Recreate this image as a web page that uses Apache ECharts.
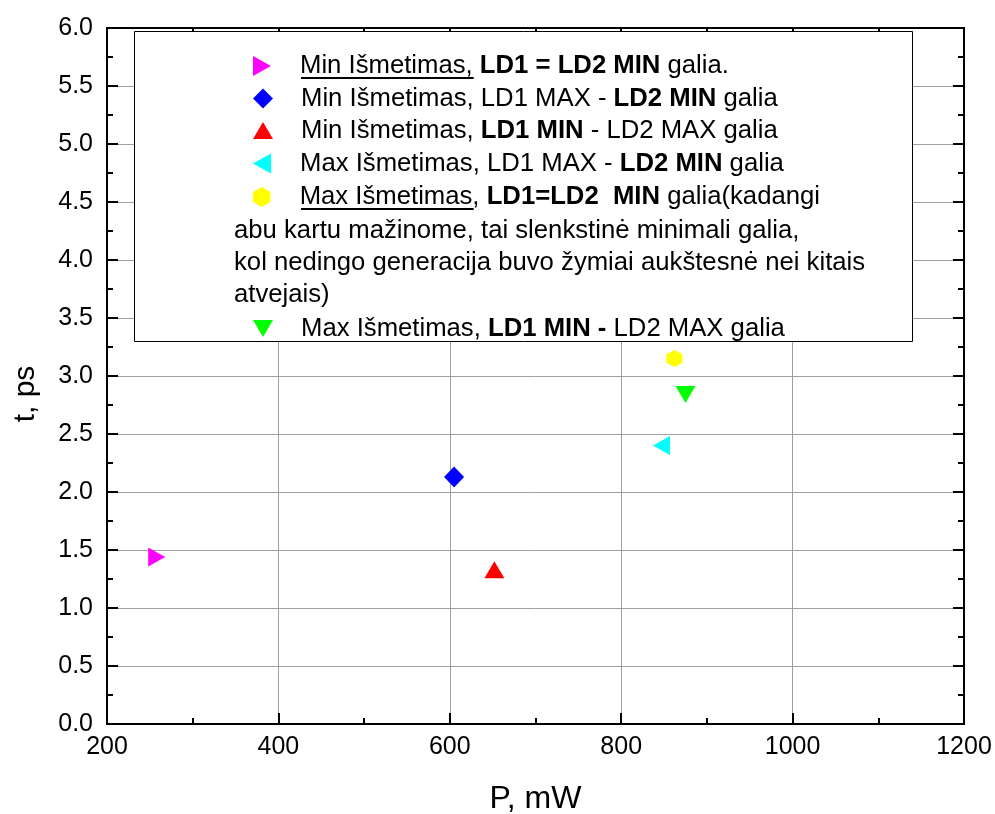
<!DOCTYPE html>
<html>
<head>
<meta charset="utf-8">
<script src="https://cdn.jsdelivr.net/npm/echarts@6/dist/echarts.min.js"></script>
<style>
html,body{margin:0;padding:0;background:#fff;}
#c{width:995px;height:814px;}
</style>
</head>
<body>
<div id="c"></div>
<script>
// ---- data ----
const seriesNames = [
  'Min Išmetimas, LD1 = LD2 MIN galia.',
  'Min Išmetimas, LD1 MAX - LD2 MIN galia',
  'Min Išmetimas, LD1 MIN - LD2 MAX galia',
  'Max Išmetimas, LD1 MAX - LD2 MIN galia',
  'Max Išmetimas, LD1=LD2  MIN galia(kadangi',
  'Max Išmetimas, LD1 MIN - LD2 MAX galia'
];
const legendRichLabels = [
  '{u|Min Išmetimas,} {b|LD1 = LD2 MIN} galia.',
  'Min Išmetimas, LD1 MAX - {b|LD2 MIN} galia',
  'Min Išmetimas, {b|LD1 MIN} - LD2 MAX galia',
  'Max Išmetimas, LD1 MAX - {b|LD2 MIN} galia',
  '{u|Max Išmetimas}, {b|LD1=LD2  MIN} galia(kadangi',
  'Max Išmetimas, {b|LD1 MIN -} LD2 MAX galia'
];
const legendContinuation = [
  'abu kartu mažinome, tai slenkstinė minimali galia,',
  'kol nedingo generacija buvo žymiai aukštesnė nei kitais',
  'atvejais)'
];
const underlinedParts = ['Min Išmetimas,', 'Max Išmetimas'];
const xValues = [258, 605, 652, 847, 862, 875];
const yValues = [1.44, 2.13, 1.33, 2.40, 3.15, 2.84];
const seriesColors = ['#ff00ff', '#0000ff', '#ff0000', '#00ffff', '#ffff00', '#00ff00'];
const xTickLabels = ['200', '400', '600', '800', '1000', '1200'];
const yTickLabels = ['0.0','0.5','1.0','1.5','2.0','2.5','3.0','3.5','4.0','4.5','5.0','5.5','6.0'];

// ---- styles ----
const FONT = '"Liberation Sans", Arial, sans-serif';
const LFS = 25.7; // legend font size
const symbols = [
  'path://M0,0 L9,5 L0,10 Z',
  'path://M5,0 L10,5 L5,10 L0,5 Z',
  'path://M5,0 L10,8.5 L0,8.5 Z',
  'path://M9,0 L0,5 L9,10 Z',
  'path://M5,0 L9.33,2.5 L9.33,7.5 L5,10 L0.67,7.5 L0.67,2.5 Z',
  'path://M0,0 L10,0 L5,8.5 Z'
];
const symbolSizes = [[17,19],[20,21],[20,17],[17,19],[16,17],[20,17]];
const legendCenters = [66, 98.5, 130.5, 163.5, 197];   // per-item line centre (px)
const legendLastCenter = 328.5;
const contCenters = [230.5, 262.5, 294.5];

const chart = echarts.init(document.getElementById('c'), null, {renderer: 'canvas'});

const series = seriesNames.map((n, i) => ({
  name: n,
  type: 'scatter',
  data: [[xValues[i], yValues[i]]],
  symbol: symbols[i],
  symbolSize: symbolSizes[i],
  itemStyle: {color: seriesColors[i], opacity: 1},
  z: 5
}));

const richMap = {};
seriesNames.forEach((n, i) => richMap[n] = '{sp| }' + legendRichLabels[i]);

const legendText = {
  fontFamily: FONT, fontSize: LFS, color: '#000', lineHeight: 26,
  rich: {
    sp: {width: 23, fontFamily: FONT, fontSize: LFS, lineHeight: 26},
    u: {fontFamily: FONT, fontSize: LFS, color: '#000', lineHeight: 26},
    b: {fontFamily: FONT, fontSize: LFS, color: '#000', fontWeight: 'bold', lineHeight: 26}
  }
};

const allCenters = legendCenters.concat([legendLastCenter]);
const legends = seriesNames.map((n, i) => ({
  data: [n],
  orient: 'vertical', left: 253, top: allCenters[i] - 13,
  padding: 0,
  itemWidth: 20, itemHeight: 20,
  selectedMode: false, z: 10,
  textStyle: legendText,
  formatter: (nm) => richMap[nm]
}));

// measure underline widths
const cv = document.createElement('canvas').getContext('2d');
cv.font = LFS + 'px ' + FONT;
const ulW = underlinedParts.map(s => cv.measureText(s).width);

const textX = 301;
const axisCommon = {
  axisLine: {show: true, onZero: false, lineStyle: {color: '#000', width: 2}},
  axisTick: {show: true, inside: true, length: 11, lineStyle: {color: '#000', width: 2}},
  minorTick: {show: true, splitNumber: 2, length: 6, lineStyle: {color: '#000', width: 2}},
};

const option = {
  backgroundColor: '#fff',
  animation: false,
  grid: {left: 107, right: 31, top: 28, bottom: 90, containLabel: false, outerBoundsMode: 'none'},
  xAxis: [
    Object.assign({
      type: 'value', min: 200, max: 1200, interval: 200, position: 'bottom',
      name: 'P, mW', nameLocation: 'middle', nameGap: 59,
      nameTextStyle: {fontFamily: FONT, fontSize: 32, color: '#000'},
      axisLabel: {fontFamily: FONT, fontSize: 25, color: '#000', margin: 11,
        formatter: (v) => xTickLabels[Math.round((v - 200) / 200)]},
      splitLine: {show: true, lineStyle: {color: '#a0a0a0', width: 1}}
    }, axisCommon),
    Object.assign({
      type: 'value', min: 200, max: 1200, interval: 200, position: 'top',
      axisLabel: {show: false}, splitLine: {show: false}
    }, axisCommon)
  ],
  yAxis: [
    Object.assign({
      type: 'value', min: 0, max: 6, interval: 0.5, position: 'left',
      name: 't, ps', nameLocation: 'middle', nameGap: 66, nameRotate: 90,
      nameTextStyle: {fontFamily: FONT, fontSize: 30, color: '#000', padding: [0, 36, 0, 0]},
      axisLabel: {fontFamily: FONT, fontSize: 25, color: '#000', margin: 14,
        formatter: (v) => yTickLabels[Math.round(v / 0.5)]},
      splitLine: {show: true, lineStyle: {color: '#a0a0a0', width: 1}}
    }, axisCommon),
    Object.assign({
      type: 'value', min: 0, max: 6, interval: 0.5, position: 'right',
      axisLabel: {show: false}, splitLine: {show: false}
    }, axisCommon)
  ],
  legend: legends,
  graphic: [
    {type: 'rect', z: 8, shape: {x: 134.5, y: 31.5, width: 778, height: 310},
     style: {fill: '#fff', stroke: '#000', lineWidth: 1}},
    ...legendContinuation.map((t, i) => ({
      type: 'text', z: 10, x: 234, y: contCenters[i],
      style: {text: t, font: LFS + 'px ' + FONT, fill: '#000', textVerticalAlign: 'middle'}
    })),
    {type: 'line', z: 10, shape: {x1: textX, y1: allCenters[0] + 12, x2: textX + ulW[0], y2: allCenters[0] + 12},
     style: {stroke: '#000', lineWidth: 2}},
    {type: 'line', z: 10, shape: {x1: textX, y1: allCenters[4] + 12, x2: textX + ulW[1], y2: allCenters[4] + 12},
     style: {stroke: '#000', lineWidth: 2}}
  ],
  series: series
};
chart.setOption(option);
</script>
</body>
</html>
